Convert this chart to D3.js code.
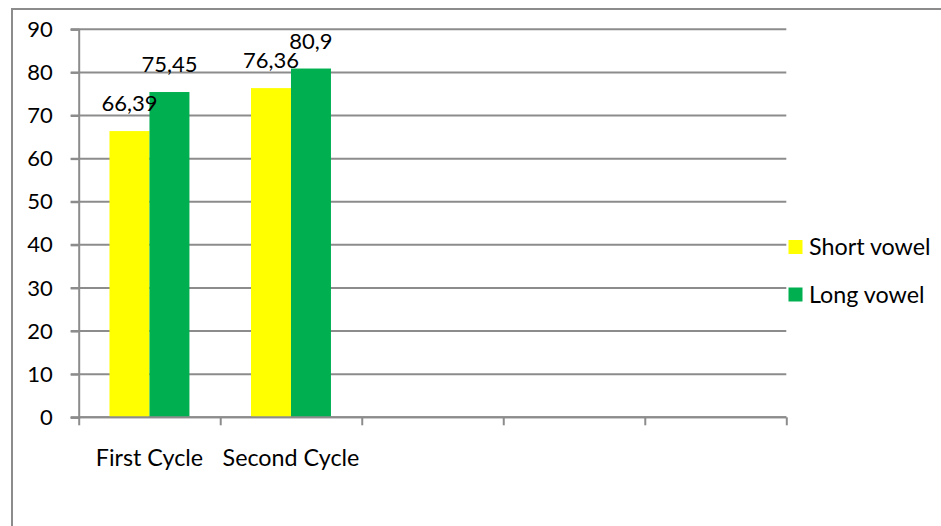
<!DOCTYPE html>
<html><head><meta charset="utf-8">
<script src="https://cdn.jsdelivr.net/npm/d3@7"></script>
<style>
html,body{margin:0;padding:0;background:#fff;}
svg{display:block;font-family:Lato, "Open Sans", sans-serif;}
</style></head>
<body>
<svg id="chart" width="941" height="526"></svg>
<script>
const categoryLabels = ["First Cycle", "Second Cycle", "", "", ""];
const seriesNames = ["Short vowel", "Long vowel"];
const shortVowel = [66.39, 76.36];
const longVowel = [75.45, 80.9];
const yTicks = [0, 10, 20, 30, 40, 50, 60, 70, 80, 90];
const colors = ["#FFFF00", "#00B050"];

(function () {
const svg = d3.select("#chart");
const pLeft = 78.7, pRight = 786.3, pTop = 29.3, pBottom = 417.3;
const FS = 22, FSW = 23.3;

// outer frame
svg.append("rect").attr("x", 12).attr("y", 9).attr("width", 960).attr("height", 560)
  .attr("fill", "none").attr("stroke", "#8c8c8c").attr("stroke-width", 2);

const y = d3.scaleLinear().domain([0, 90]).range([pBottom, pTop]);
const x0 = d3.scaleBand().domain(d3.range(categoryLabels.length)).range([pLeft, pRight]).padding(0);
const bw = x0.bandwidth();
const gap = bw * 0.2175;
const x1 = d3.scaleBand().domain(seriesNames).range([gap, bw - gap]).padding(0);

// gridlines
svg.append("g").selectAll("line").data(yTicks).join("line")
  .attr("x1", pLeft - 8).attr("x2", pRight)
  .attr("y1", d => y(d)).attr("y2", d => y(d))
  .attr("stroke", "#8c8c8c").attr("stroke-width", 2);

// y axis
const yAxis = svg.append("g").attr("transform", `translate(${pLeft},0)`)
  .call(d3.axisLeft(y).tickValues(yTicks).tickSize(8).tickPadding(18));
yAxis.select(".domain").attr("stroke", "#8c8c8c").attr("stroke-width", 2);
yAxis.selectAll(".tick line").attr("stroke", "#8c8c8c").attr("stroke-width", 2);
yAxis.selectAll(".tick text").attr("font-size", FS).attr("fill", "#000")
  .attr("font-family", "Lato, sans-serif");

// bars
const series = [shortVowel, longVowel];
const barG = svg.append("g");
const labG = svg.append("g");
series.forEach((vals, si) => {
  barG.append("g").selectAll("rect").data(vals).join("rect")
    .attr("x", (d, i) => x0(i) + x1(seriesNames[si]))
    .attr("width", x1.bandwidth())
    .attr("y", d => y(d))
    .attr("height", d => y(0) - y(d))
    .attr("fill", colors[si]);
  labG.append("g").selectAll("text").data(vals).join("text")
    .attr("x", (d, i) => x0(i) + x1(seriesNames[si]) + x1.bandwidth() / 2)
    .attr("y", d => y(d) - 20)
    .attr("text-anchor", "middle")
    .attr("font-size", FS).attr("fill", "#000")
    .text(d => String(d).replace(".", ","));
});

// x axis line and boundary ticks
const xb = d3.scaleLinear().domain([0, categoryLabels.length]).range([pLeft, pRight]);
const xAxis = svg.append("g").attr("transform", `translate(0,${pBottom})`)
  .call(d3.axisBottom(xb).tickValues(d3.range(categoryLabels.length + 1))
    .tickSize(8).tickFormat(""));
xAxis.select(".domain").attr("stroke", "#8c8c8c").attr("stroke-width", 2).attr("d", `M${pLeft},0H${pRight}`);
xAxis.selectAll(".tick line").attr("stroke", "#8c8c8c").attr("stroke-width", 2);
labG.raise();

// category labels
const xLab = svg.append("g").attr("transform", `translate(0,${pBottom})`)
  .call(d3.axisBottom(x0).tickSize(0).tickPadding(0).tickFormat(i => categoryLabels[i]));
xLab.select(".domain").remove();
xLab.selectAll(".tick text").attr("font-size", FSW).attr("fill", "#000")
  .attr("font-family", "Lato, sans-serif").attr("dy", null).attr("y", 49);

// legend
const lg = svg.append("g");
seriesNames.forEach((name, i) => {
  const cy = 247 + i * 47.5;
  lg.append("rect").attr("x", 788.5).attr("y", cy - 7).attr("width", 14).attr("height", 14).attr("fill", colors[i]);
  lg.append("text").attr("x", 809).attr("y", cy).attr("dy", "0.35em")
    .attr("font-size", FSW).attr("fill", "#000").text(name);
});
})();
</script>
</body></html>
